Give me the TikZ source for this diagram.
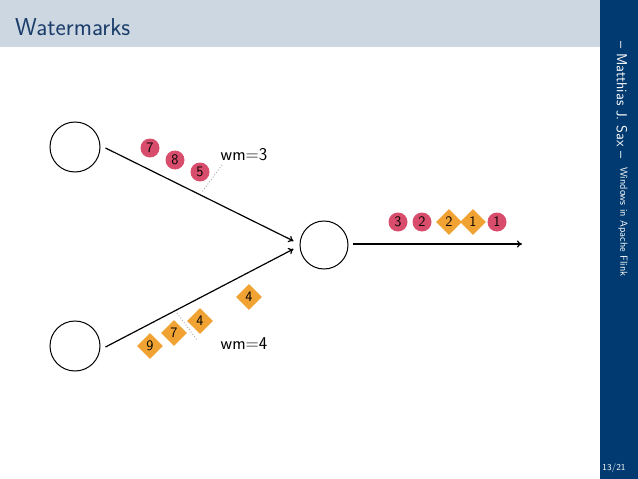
\documentclass[tikz,border=0pt]{standalone}
\usepackage{fontspec}
\usetikzlibrary{shapes.geometric,arrows.meta}
\definecolor{hdrbg}{HTML}{CDD7E1}
\definecolor{sidebg}{HTML}{003A70}
\definecolor{titlec}{HTML}{1B3D6B}
\definecolor{evred}{HTML}{D94D6C}
\definecolor{evorange}{HTML}{F0A232}
\begin{document}
\begin{tikzpicture}[x=1pt,y=-1pt,
  font=\sffamily,
  opnode/.style={circle,draw=black,line width=1pt,inner sep=0pt,minimum size=50pt},
  flow/.style={line width=1.2pt,-{To[length=5pt,width=7pt]}},
  evr/.style={circle,fill=evred,inner sep=0pt,minimum size=19pt,font=\sffamily\fontsize{14.5}{15}\selectfont},
  evo/.style={diamond,aspect=1,fill=evorange,inner sep=0pt,minimum size=26pt,font=\sffamily\fontsize{14.5}{15}\selectfont},
  wmline/.style={gray!70,dotted,line width=0.9pt},
  wmtext/.style={font=\sffamily\fontsize{18}{20}\selectfont}]
\useasboundingbox (0,0) rectangle (638,479);
% header and sidebar
\fill[hdrbg] (0,0) rectangle (600,47);
\fill[sidebg] (600,0) rectangle (638,479);
\node[anchor=base west,text=titlec,inner sep=0pt,font=\sffamily\fontsize{24.5}{26}\selectfont] (title) at (15,35) {Watermarks};
\node[rotate=-90,text=white,inner sep=0pt,font=\sffamily\fontsize{14.5}{16}\selectfont] (author) at (622,100) {– Matthias J. Sax –};
\node[rotate=-90,text=white,inner sep=0pt,font=\sffamily\fontsize{10.3}{11}\selectfont] (talk) at (623,222) {Windows in Apache Flink};
\node[text=white,inner sep=0pt,font=\sffamily\fontsize{9}{10}\selectfont] (page) at (614,468) {13/21};
% operators
\node[opnode] (s1) at (75,147) {};
\node[opnode] (s2) at (75,346) {};
\node[opnode,minimum size=48pt] (op) at (324,245) {};
\coordinate (outend) at (522,244);
\draw[flow] ([xshift=5pt,yshift=-1pt]s1.east) -- ([xshift=-6pt,yshift=4pt]op.west);
\draw[flow] ([xshift=5pt,yshift=-1pt]s2.east) -- ([xshift=-6pt,yshift=-4pt]op.west);
\draw[flow] ([xshift=4pt,yshift=1pt]op.east) -- (outend);
% upper stream
\node[evr] (u7) at (150,148) {7};
\node[evr] (u8) at (175,160) {8};
\node[evr] (u5) at (200,172) {5};
\coordinate (w1a) at (222,165);
\coordinate (w1b) at (202,192);
\draw[wmline] (w1a) -- (w1b);
\node[wmtext] (wm1) at (244,155) {wm=3};
% lower stream
\node[evo] (l4a) at (249,297) {4};
\node[evo] (l4b) at (200,321) {4};
\node[evo] (l7) at (174,333) {7};
\node[evo] (l9) at (150,346) {9};
\coordinate (w2a) at (177,313);
\coordinate (w2b) at (197,340);
\draw[wmline] (w2a) -- (w2b);
\node[wmtext] (wm2) at (244,344) {wm=4};
% output stream
\node[evr] (o3) at (398,222) {3};
\node[evr] (o2) at (422,222) {2};
\node[evo] (o2d) at (449,222) {2};
\node[evo] (o1d) at (473,222) {1};
\node[evr] (o1) at (497,222) {1};
\end{tikzpicture}
\end{document}
